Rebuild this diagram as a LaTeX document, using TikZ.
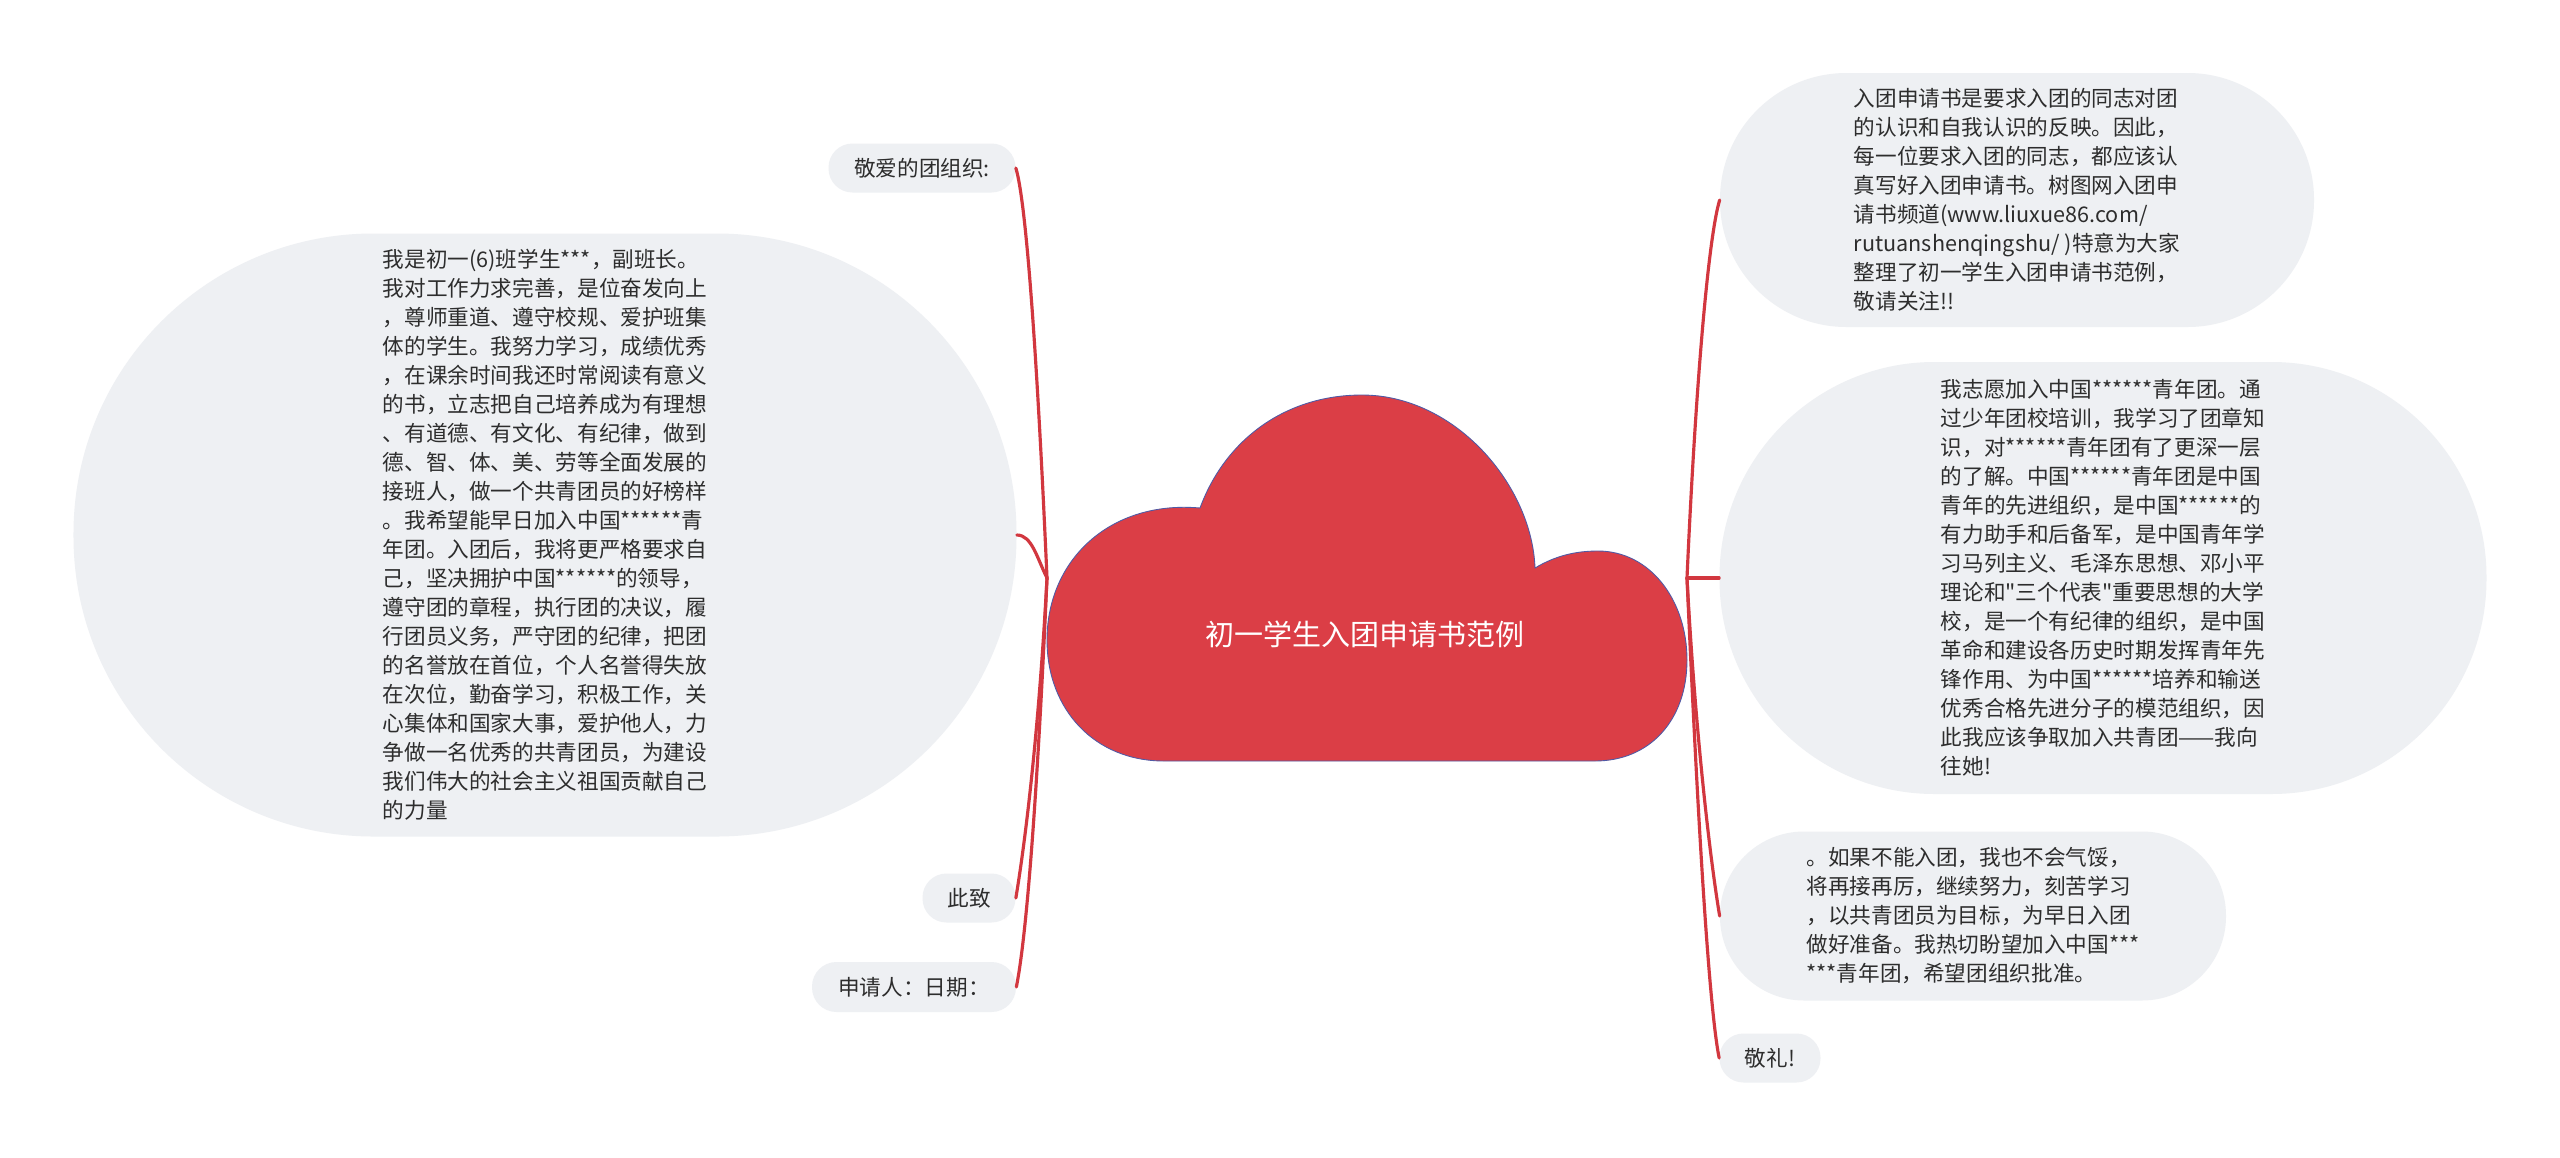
\documentclass[tikz,border=0pt]{standalone}
\usepackage{fontspec}
\setmainfont{Noto Sans CJK SC}[Ligatures=TeXOff]
\definecolor{PillClr}{RGB}{238,240,243}
\definecolor{BranchClr}{RGB}{210,55,63}
\definecolor{CloudClr}{RGB}{219,62,70}
\definecolor{CloudEdge}{RGB}{80,90,165}
\definecolor{TextClr}{RGB}{45,45,45}

\begin{document}
\begin{tikzpicture}[x=0.2mm,y=-0.2mm,
  pill/.style={fill=PillClr,rounded corners=#1,inner sep=0pt,text=TextClr,align=left,
    font=\fontsize{12.3}{16.5}\selectfont},
  branch/.style={draw=BranchClr,line width=1.8pt,line cap=round}]

\path[fill=white] (0,0) rectangle (2560,1157);

\coordinate (lhub) at (1047,578);
\coordinate (rhub) at (1687,578);

% left side
\node[pill=4.8mm,minimum width=37.4mm,minimum height=9.8mm] (greet) at (922,168) {敬爱的团组织:};
\node[pill=60mm,minimum width=188.6mm,minimum height=120.6mm] (letter) at (545,535) {我是初一(6)班学生***，副班长。\\
我对工作力求完善，是位奋发向上\\
，尊师重道、遵守校规、爱护班集\\
体的学生。我努力学习，成绩优秀\\
，在课余时间我还时常阅读有意义\\
的书，立志把自己培养成为有理想\\
、有道德、有文化、有纪律，做到\\
德、智、体、美、劳等全面发展的\\
接班人，做一个共青团员的好榜样\\
。我希望能早日加入中国******青\\
年团。入团后，我将更严格要求自\\
己，坚决拥护中国******的领导，\\
遵守团的章程，执行团的决议，履\\
行团员义务，严守团的纪律，把团\\
的名誉放在首位，个人名誉得失放\\
在次位，勤奋学习，积极工作，关\\
心集体和国家大事，爱护他人，力\\
争做一名优秀的共青团员，为建设\\
我们伟大的社会主义祖国贡献自己\\
的力量};
\node[pill=4.8mm,minimum width=18.6mm,minimum height=9.8mm] (regards) at (969,898) {此致};
\node[pill=4.9mm,minimum width=40.8mm,minimum height=10mm] (sign) at (914,987) {申请人：日期：};

% right side
\node[pill=25.3mm,minimum width=118.8mm,minimum height=50.8mm] (intro) at (2017,200) {入团申请书是要求入团的同志对团\\
的认识和自我认识的反映。因此，\\
每一位要求入团的同志，都应该认\\
真写好入团申请书。树图网入团申\\
请书频道(www.liuxue86.com/\\
rutuanshenqingshu/ )特意为大家\\
整理了初一学生入团申请书范例，\\
敬请关注!!};
\node[pill=43mm,minimum width=153.4mm,minimum height=86.4mm] (pledge) at (2103,578) {我志愿加入中国******青年团。通\\
过少年团校培训，我学习了团章知\\
识，对******青年团有了更深一层\\
的了解。中国******青年团是中国\\
青年的先进组织，是中国******的\\
有力助手和后备军，是中国青年学\\
习马列主义、毛泽东思想、邓小平\\
理论和"三个代表"重要思想的大学\\
校，是一个有纪律的组织，是中国\\
革命和建设各历史时期发挥青年先\\
锋作用、为中国******培养和输送\\
优秀合格先进分子的模范组织，因\\
此我应该争取加入共青团——我向\\
往她!};
\node[pill=16.8mm,minimum width=101.2mm,minimum height=33.8mm] (resolve) at (1973,916) {。如果不能入团，我也不会气馁，\\
将再接再厉，继续努力，刻苦学习\\
，以共青团员为目标，为早日入团\\
做好准备。我热切盼望加入中国***\\
***青年团，希望团组织批准。};
\node[pill=4.8mm,minimum width=20.2mm,minimum height=9.8mm] (salute) at (1770,1058) {敬礼!};

\draw[branch] (lhub) .. controls +(-8,-180) and +(12,40) .. (greet.east);
\draw[branch] (lhub) .. controls +(-10,-20) and +(15,0) .. (letter.east);
\draw[branch] (lhub) .. controls +(-8,150) and +(10,-60) .. (regards.east);
\draw[branch] (lhub) .. controls +(-8,180) and +(12,-60) .. (sign.east);

\draw[branch] (rhub) .. controls +(8,-180) and +(-12,40) .. (intro.west);
\draw[branch] (rhub) -- (pledge.west);
\draw[branch] (rhub) .. controls +(8,150) and +(-10,-60) .. (resolve.west);
\draw[branch] (rhub) .. controls +(8,180) and +(-12,-60) .. (salute.west);

% cloud
\draw[fill=CloudClr,draw=CloudEdge,line width=0.5pt] (1164,761)
  .. controls (1095,761) and (1047,710) .. (1047,640)
  .. controls (1047,560) and (1110,500) .. (1200,508)
  .. controls (1225,440) and (1285,395) .. (1362,395)
  .. controls (1455,395) and (1532,485) .. (1535,568)
  .. controls (1555,556) and (1575,551) .. (1598,551)
  .. controls (1650,551) and (1687,600) .. (1687,660)
  .. controls (1687,720) and (1650,761) .. (1595,761) -- cycle;
\node[text=white,font=\fontsize{16.5}{20}\selectfont] (root) at (1365,634) {初一学生入团申请书范例};

\end{tikzpicture}
\end{document}
